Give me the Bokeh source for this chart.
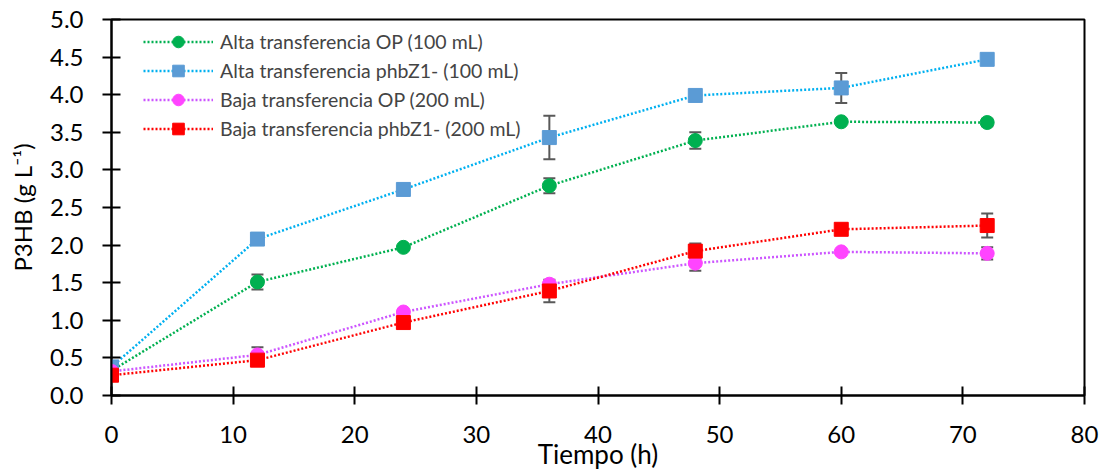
from bokeh.plotting import figure
from bokeh.models import ColumnDataSource, Whisker, TeeHead, Legend, LegendItem, Range1d, FixedTicker, NumeralTickFormatter
from bokeh.embed import file_html
from bokeh.resources import INLINE

tiempo = [0, 12, 24, 36, 48, 60, 72]

names = [
    "Alta transferencia OP (100 mL)",
    "Alta transferencia phbZ1- (100 mL)",
    "Baja transferencia OP (200 mL)",
    "Baja transferencia phbZ1- (200 mL)",
]
alta_op = [0.33, 1.51, 1.97, 2.79, 3.39, 3.64, 3.63]
alta_phb = [0.38, 2.08, 2.74, 3.43, 3.99, 4.09, 4.47]
baja_op = [0.32, 0.54, 1.11, 1.48, 1.76, 1.91, 1.89]
baja_phb = [0.27, 0.47, 0.97, 1.39, 1.92, 2.21, 2.26]

err_alta_op = [0, 0.10, 0, 0.10, 0.11, 0, 0.05]
err_alta_phb = [0, 0, 0, 0.29, 0, 0.20, 0]
err_baja_op = [0, 0.10, 0, 0, 0.10, 0, 0.08]
err_baja_phb = [0, 0, 0, 0.15, 0.10, 0, 0.16]

series = [
    (alta_op, err_alta_op, "#00B050", "#00B050", "circle"),
    (alta_phb, err_alta_phb, "#00B0F0", "#5B9BD5", "square"),
    (baja_op, err_baja_op, "#CC55FF", "#FF44FF", "circle"),
    (baja_phb, err_baja_phb, "#FF0000", "#FF0000", "square"),
]

FONT = "Lato"

p = figure(width=1104, height=472, output_backend="svg", toolbar_location=None,
           x_range=Range1d(0, 80), y_range=Range1d(0, 5),
           min_border_left=111, min_border_right=20, min_border_top=19, min_border_bottom=76)
p.xgrid.visible = False
p.ygrid.visible = False
p.outline_line_color = "black"
p.outline_line_width = 2
p.outline_line_alpha = 1

for ax in (p.xaxis[0], p.yaxis[0]):
    ax.axis_line_width = 2
    ax.axis_line_color = "black"
    ax.major_tick_line_width = 2
    ax.major_tick_line_color = "black"
    ax.major_tick_in = 9
    ax.major_tick_out = 9
    ax.minor_tick_line_color = None
    ax.major_label_text_font = FONT
    ax.major_label_text_font_size = "24px"
    ax.major_label_text_color = "black"
    ax.axis_label_text_font = FONT
    ax.axis_label_text_font_style = "normal"
    ax.axis_label_text_color = "black"

p.xaxis.axis_label_text_font_size = "26px"
p.yaxis.axis_label_text_font_size = "24px"
p.xaxis.ticker = FixedTicker(ticks=list(range(0, 81, 10)))
p.yaxis.ticker = FixedTicker(ticks=[i * 0.5 for i in range(11)])
p.yaxis.formatter = NumeralTickFormatter(format="0.0")
p.xaxis.major_label_standoff = 21
p.yaxis.major_label_standoff = 19
p.xaxis.axis_label = "Tiempo (h)"
p.yaxis.axis_label = "P3HB (g L\u207b\u00b9)"
p.xaxis.axis_label_standoff = -8
p.yaxis.axis_label_standoff = 10

# error bars
for vals, errs, lc, mc, mk in series:
    xs = [t for t, e in zip(tiempo, errs) if e > 0]
    lo = [v - e for v, e in zip(vals, errs) if e > 0]
    hi = [v + e for v, e in zip(vals, errs) if e > 0]
    src = ColumnDataSource(dict(x=xs, lo=lo, hi=hi))
    w = Whisker(source=src, base="x", lower="lo", upper="hi", dimension="height",
                line_color="#595959", line_width=2,
                upper_head=TeeHead(size=12, line_color="#595959", line_width=2),
                lower_head=TeeHead(size=12, line_color="#595959", line_width=2))
    p.add_layout(w)

items = []
line_rs = []
for vals, errs, lc, mc, mk in series:
    src = ColumnDataSource(dict(x=tiempo, y=vals))
    lr = p.line("x", "y", source=src, line_color=lc, line_width=2.5, line_dash="2 2")
    line_rs.append((lr, src))

for (lr, src), (vals, errs, lc, mc, mk), name in zip(line_rs, series, names):
    sr = p.scatter("x", "y", source=src, marker=mk, size=14, fill_color=mc, line_color=mc)
    items.append(LegendItem(label=name, renderers=[lr, sr]))

legend = Legend(items=items, location=(32, 252), border_line_color=None,
                background_fill_alpha=0, padding=0, margin=0,
                label_text_font=FONT, label_text_font_size="19.5px",
                glyph_width=70, glyph_height=29, label_height=20,
                spacing=0, label_standoff=7)
p.add_layout(legend)

open("out.html", "w").write(file_html(p, INLINE))
